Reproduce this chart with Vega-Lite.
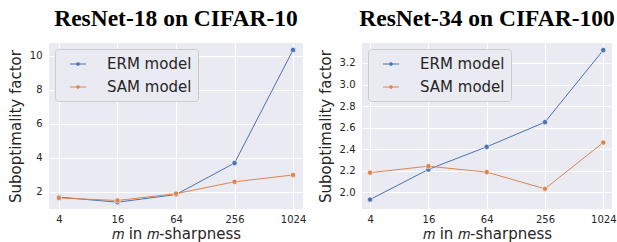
{
  "$schema": "https://vega.github.io/schema/vega-lite/v6.json",
  "padding": {"left": 8, "top": 6, "right": 4, "bottom": 1},
  "spacing": 12,
  "config": {
    "view": {"fill": "#EAEAF2", "stroke": null},
    "axis": {
      "grid": true, "gridColor": "white", "gridWidth": 1, "domain": false, "ticks": false,
      "labelFont": "DejaVu Sans", "labelFontSize": 10, "labelColor": "#262626", "labelPadding": 7,
      "titleFont": "DejaVu Sans", "titleFontSize": 15, "titleFontWeight": "normal", "titleColor": "#262626"
    },
    "title": {"font": "Liberation Serif", "fontSize": 23.5, "fontWeight": "bold", "color": "black", "offset": 13},
    "legend": {
      "orient": "top-left", "offset": 6, "title": null,
      "fillColor": "#EAEAF2", "strokeColor": "#CCCCCC", "cornerRadius": 3, "padding": 6,
      "labelFont": "DejaVu Sans", "labelFontSize": 15, "labelColor": "#262626", "labelOffset": 20,
      "symbolOffset": 8,
      "rowPadding": 6, "symbolSize": 256, "symbolStrokeWidth": 1.2,
      "symbolType": "M-1,0 L1,0 M-0.15,0 A0.15,0.15 0 1,1 0.15,0 A0.15,0.15 0 1,1 -0.15,0 Z"
    }
  },
  "datasets": {
    "r18": [
      {"m": 4, "model": "ERM model", "value": 1.7},
      {"m": 16, "model": "ERM model", "value": 1.4},
      {"m": 64, "model": "ERM model", "value": 1.85},
      {"m": 256, "model": "ERM model", "value": 3.7},
      {"m": 1024, "model": "ERM model", "value": 10.35},
      {"m": 4, "model": "SAM model", "value": 1.65},
      {"m": 16, "model": "SAM model", "value": 1.5},
      {"m": 64, "model": "SAM model", "value": 1.9},
      {"m": 256, "model": "SAM model", "value": 2.6},
      {"m": 1024, "model": "SAM model", "value": 3.0}
    ],
    "r34": [
      {"m": 4, "model": "ERM model", "value": 1.93},
      {"m": 16, "model": "ERM model", "value": 2.21},
      {"m": 64, "model": "ERM model", "value": 2.42},
      {"m": 256, "model": "ERM model", "value": 2.65},
      {"m": 1024, "model": "ERM model", "value": 3.32},
      {"m": 4, "model": "SAM model", "value": 2.18},
      {"m": 16, "model": "SAM model", "value": 2.24},
      {"m": 64, "model": "SAM model", "value": 2.185},
      {"m": 256, "model": "SAM model", "value": 2.03},
      {"m": 1024, "model": "SAM model", "value": 2.46}
    ]
  },
  "resolve": {"scale": {"color": "independent", "y": "independent", "x": "independent"}, "legend": {"color": "independent"}},
  "hconcat": [
    {
      "width": 254, "height": 166,
      "title": "ResNet-18 on CIFAR-10",
      "data": {"name": "r18"},
      "mark": {"type": "line", "strokeWidth": 1, "point": {"filled": true, "size": 28, "stroke": "white", "strokeWidth": 0.6}},
      "encoding": {
        "x": {"field": "m", "type": "quantitative", "scale": {"type": "log", "base": 2, "domain": [3.16, 1296], "nice": false}, "axis": {"values": [4, 16, 64, 256, 1024], "format": "d", "title": "𝑚 in 𝑚-sharpness", "labelPadding": 5, "titlePadding": 2}},
        "y": {"field": "value", "type": "quantitative", "scale": {"domain": [1.0, 10.76], "nice": false, "zero": false}, "axis": {"values": [2, 4, 6, 8, 10], "title": "Suboptimality factor", "titlePadding": 6}},
        "color": {"field": "model", "type": "nominal", "scale": {"domain": ["ERM model", "SAM model"], "range": ["#4C72B0", "#DD8452"]}}
      }
    },
    {
      "width": 250, "height": 166,
      "title": "ResNet-34 on CIFAR-100",
      "data": {"name": "r34"},
      "mark": {"type": "line", "strokeWidth": 1, "point": {"filled": true, "size": 28, "stroke": "white", "strokeWidth": 0.6}},
      "encoding": {
        "x": {"field": "m", "type": "quantitative", "scale": {"type": "log", "base": 2, "domain": [3.3, 1260], "nice": false}, "axis": {"values": [4, 16, 64, 256, 1024], "format": "d", "title": "𝑚 in 𝑚-sharpness", "labelPadding": 5, "titlePadding": 2}},
        "y": {"field": "value", "type": "quantitative", "scale": {"domain": [1.842, 3.386], "nice": false, "zero": false}, "axis": {"values": [2.0, 2.2, 2.4, 2.6, 2.8, 3.0, 3.2], "format": ".1f", "title": "Suboptimality factor", "titlePadding": 6}},
        "color": {"field": "model", "type": "nominal", "scale": {"domain": ["ERM model", "SAM model"], "range": ["#4C72B0", "#DD8452"]}}
      }
    }
  ]
}
